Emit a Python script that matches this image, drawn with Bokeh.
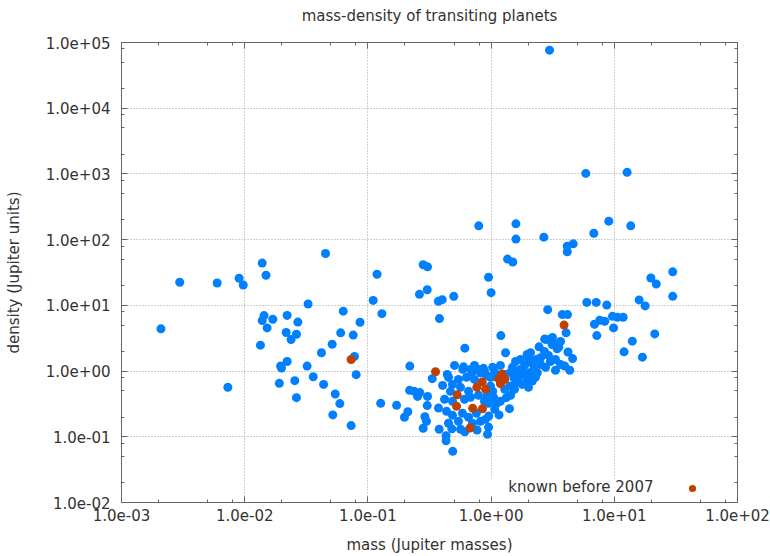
from bokeh.plotting import figure
from bokeh.models import (FixedTicker, CustomJSTickFormatter, LogAxis, Range1d,
                          Legend, LegendItem, Label, BoxAnnotation, ColumnDataSource)
from bokeh.embed import file_html
from bokeh.resources import INLINE

# ---------------- data ----------------
# all transiting planets (blue)
mass_all = [
    0.00209, 0.00297, 0.00598, 0.00901, 0.00973, 0.01387, 0.0149, 0.0453, 0.1186, 0.1104,
    0.130, 0.0327, 0.0631, 0.0863, 0.0601, 0.0760, 0.01436, 0.01387, 0.0169, 0.0152,
    0.0221, 0.0270, 0.0217, 0.0263, 0.0238, 0.01342, 0.0420, 0.0513, 0.0778, 0.01955,
    0.0199, 0.0221, 0.0321, 0.0803, 0.0360, 0.0191, 0.0255, 0.0437, 0.00730, 0.0543,
    0.0263, 0.0592, 0.127, 0.0519, 0.0731,
    0.219, 0.333, 0.441, 0.612, 0.381, 1.20, 1.31, 0.218, 0.238, 0.264,
    0.253, 0.305, 0.171, 0.303, 0.374, 0.211, 0.198, 0.290, 0.299, 0.281,
    0.379, 0.431, 0.431, 0.488, 0.480, 0.611, 0.769, 0.935, 0.262, 0.303,
    0.373, 0.401, 0.498, 0.953, 1.00, 0.281, 0.305, 0.794, 1.59, 1.59,
    2.68, 4.15, 4.15, 4.64, 6.82, 9.02, 13.6, 1.36, 1.50, 2.98,
    5.87, 12.7, 19.8, 21.9, 29.8, 29.8, 15.9, 17.8, 21.3, 2.88,
    3.78, 4.17, 4.06, 5.98, 7.13, 8.69, 6.90, 7.62, 8.37, 9.67,
    10.6, 11.8, 9.86, 7.21, 12.0, 14.0, 16.9, 4.21, 4.59, 4.35,
    3.96, 3.33, 2.72, 3.33, 3.54, 2.45, 3.13, 3.44, 1.96, 2.09,
    2.52, 2.02, 2.52, 2.22, 2.06, 2.37, 1.73, 1.63, 1.53, 1.96,
    2.16, 1.79, 1.58, 1.42, 1.44, 1.07, 1.33, 1.41, 1.16, 0.957,
    0.902, 0.820, 1.05, 0.989, 0.929, 0.589, 0.597, 0.703, 0.794,
    0.451, 0.486, 0.543, 0.631, 0.733, 0.565, 0.656, 0.468, 0.419, 0.486,
    0.608, 0.681, 0.790, 0.435, 0.486, 0.586, 0.656, 0.760, 0.883, 0.543,
    0.451, 0.706, 0.820, 0.953, 0.883, 0.733, 0.505, 0.989, 1.03, 1.11,
    0.953, 0.404, 0.565, 0.681, 0.867,
    1.58, 1.73, 1.87, 1.49, 1.31, 1.67, 1.87, 2.17, 2.34, 2.71,
    2.92, 3.03, 2.82, 3.15, 3.66, 2.77, 3.33, 3.66, 2.29, 2.01,
    1.29, 1.11, 1.03, 1.19, 0.918, 1.44, 1.19, 1.07, 1.55,
]
density_all = [
    4.39, 22.5, 21.9, 25.9, 20.4, 44.0, 28.7, 61.5, 29.7, 11.9,
    7.48, 10.5, 8.17, 5.53, 3.82, 3.53, 6.98, 5.86, 6.14, 4.54,
    7.03, 5.56, 3.86, 3.63, 3.02, 2.48, 1.90, 2.56, 1.67, 1.19,
    1.11, 1.40, 1.19, 0.881, 0.821, 0.650, 0.714, 0.627, 0.565, 0.447,
    0.394, 0.320, 0.323, 0.215, 0.148,
    1.19, 0.766, 0.889, 2.23, 6.29, 3.47, 1.90, 0.509, 0.491, 0.470,
    0.412, 0.412, 0.301, 0.298, 0.273, 0.240, 0.198, 0.202, 0.172, 0.135,
    0.130, 0.104, 0.0871, 0.0600, 0.132, 0.119, 0.127, 0.109, 14.7, 17.3,
    11.5, 12.2, 13.7, 26.8, 15.6, 41.5, 38.6, 162, 174, 102,
    109, 79.6, 65.3, 86.3, 125, 191, 162, 50.6, 45.6, 76400,
    1019, 1057, 26.1, 21.1, 32.4, 13.7, 12.1, 9.80, 3.68, 8.61,
    7.23, 7.23, 3.82, 11.1, 11.1, 10.1, 5.15, 5.93, 5.72, 6.81,
    6.58, 6.58, 4.54, 3.47, 1.96, 2.85, 1.63, 1.95, 1.55, 1.03,
    1.19, 1.03, 3.07, 2.54, 2.31, 2.34, 2.54, 2.18, 1.79, 1.90,
    1.60, 1.54, 1.26, 1.06, 0.944, 0.944, 1.06, 0.944, 0.793, 0.747,
    0.704, 0.627, 0.665, 0.591, 0.964, 0.964, 0.394, 0.268, 0.215, 0.207,
    0.185, 0.944, 0.394, 0.591, 0.417, 1.06, 1.16, 0.964, 1.06,
    0.802, 0.627, 0.747, 0.802, 0.747, 0.565, 0.491, 0.491, 0.372, 0.347,
    0.372, 0.398, 0.428, 0.244, 0.212, 0.228, 0.198, 0.228, 0.347, 0.172,
    0.161, 0.161, 0.172, 0.323, 0.989, 1.22, 1.22, 0.802, 0.491, 0.323,
    0.140, 0.605, 0.130, 1.06, 1.10,
    1.40, 1.50, 1.22, 1.14, 0.889, 0.802, 0.921, 1.31, 1.50, 1.99,
    1.73, 1.40, 3.02, 3.24, 2.82, 1.14, 1.50, 1.26, 0.802, 0.565,
    0.527, 0.802, 1.14, 1.22, 0.859, 0.428, 0.347, 0.262, 0.527,
]

# planets known before 2007 (orange)
mass_2007 = [0.0731, 0.354, 0.847, 0.766, 0.531, 0.524, 0.709, 0.851, 0.675, 0.902,
             1.16, 1.23, 1.29, 1.19, 3.91]
density_2007 = [1.50, 0.977, 0.684, 0.565, 0.435, 0.291, 0.271, 0.267, 0.136, 0.527,
                0.766, 0.899, 0.747, 0.643, 5.01]

x_ticks = [1e-3, 1e-2, 1e-1, 1e0, 1e1, 1e2]
y_ticks = [1e-2, 1e-1, 1e0, 1e1, 1e2, 1e3, 1e4, 1e5]
minor_factors = [2, 5, 8]

title_text = "mass-density of transiting planets"
x_label = "mass (Jupiter masses)"
y_label = "density (Jupiter units)"
legend_text = "known before 2007"

# ---------------- styling ----------------
FONT = "DejaVu Sans"
TXT = "#333333"
BLUE = "#0080ff"
ORANGE = "#c04000"
FRAME = "#666666"


def minor_list(majors):
    out = []
    for m in majors[:-1]:
        for f in minor_factors:
            out.append(m * f)
    return out


fmt = CustomJSTickFormatter(code="""
    const s = tick.toExponential(1);
    const parts = s.split("e");
    const sign = parts[1][0];
    let digits = parts[1].slice(1);
    if (digits.length < 2) { digits = "0" + digits; }
    return parts[0] + "e" + sign + digits;
""")
blank_fmt = CustomJSTickFormatter(code='return " ";')

xt = FixedTicker(ticks=x_ticks, minor_ticks=minor_list(x_ticks))
yt = FixedTicker(ticks=y_ticks, minor_ticks=minor_list(y_ticks))

p = figure(width=770, height=556, x_axis_type="log", y_axis_type="log",
           x_range=Range1d(x_ticks[0], x_ticks[-1]),
           y_range=Range1d(y_ticks[0], y_ticks[-1]),
           output_backend="svg", toolbar_location=None, title=None,
           min_border_left=121, min_border_right=33,
           min_border_top=42, min_border_bottom=53)

p.background_fill_color = "white"
p.border_fill_color = "white"
p.outline_line_color = FRAME
p.outline_line_width = 1

src_all = ColumnDataSource(data=dict(x=mass_all, y=density_all))
src_old = ColumnDataSource(data=dict(x=mass_2007, y=density_2007))
p.scatter("x", "y", source=src_all, size=9, fill_color=BLUE, line_color=None)
r_old = p.scatter("x", "y", source=src_old, size=9, fill_color=ORANGE, line_color=None)


def style_axis(ax, show_labels):
    ax.major_tick_in = 6
    ax.major_tick_out = 0
    ax.minor_tick_in = 3
    ax.minor_tick_out = 0
    ax.major_tick_line_color = FRAME
    ax.minor_tick_line_color = FRAME
    ax.axis_line_color = FRAME
    ax.axis_label_text_font = FONT
    ax.axis_label_text_font_size = "15px"
    ax.axis_label_text_font_style = "normal"
    ax.axis_label_text_color = TXT
    if show_labels:
        ax.formatter = fmt
        ax.major_label_text_font = FONT
        ax.major_label_text_font_size = "15px"
        ax.major_label_text_color = TXT
    else:
        ax.formatter = blank_fmt
        ax.major_label_text_font_size = "2px"
        ax.major_label_text_alpha = 0
        ax.major_label_standoff = 0


xa = p.xaxis[0]
ya = p.yaxis[0]
xa.ticker = xt
ya.ticker = yt
style_axis(xa, True)
style_axis(ya, True)
xa.axis_label = x_label
ya.axis_label = y_label
xa.major_label_standoff = 6
xa.axis_label_standoff = 12
ya.major_label_standoff = 11
ya.axis_label_standoff = 20

top = LogAxis(ticker=xt)
right = LogAxis(ticker=yt)
style_axis(top, False)
style_axis(right, False)
# the chart title sits above the mirrored top axis, centred over the frame
top.axis_label = title_text
top.axis_label_standoff = 18
p.add_layout(top, "above")
p.add_layout(right, "right")

for g, t in ((p.xgrid[0], xt), (p.ygrid[0], yt)):
    g.ticker = t
    g.grid_line_color = "#a0a0a0"
    g.grid_line_dash = "1 2"
    g.grid_line_width = 1

# key area (opaque, hides grid behind it)
key_box = BoxAnnotation(left=359, right=615, bottom=1, top=24,
                        left_units="screen", right_units="screen",
                        bottom_units="screen", top_units="screen",
                        fill_color="white", fill_alpha=1.0, line_color=None,
                        level="underlay")
p.add_layout(key_box)

p.add_layout(Label(x=532, y=16, x_units="screen", y_units="screen",
                   text=legend_text, text_align="right", text_baseline="middle",
                   text_font=FONT, text_font_size="15px", text_color=TXT))

legend = Legend(items=[LegendItem(label=" ", renderers=[r_old])],
                location=(562, 5), glyph_width=18, glyph_height=18,
                padding=0, margin=0, spacing=0, label_width=1, label_height=18,
                label_standoff=0, label_text_font_size="8px",
                border_line_color=None, background_fill_alpha=0)
p.add_layout(legend, "center")

open("out.html", "w").write(file_html(p, INLINE))
